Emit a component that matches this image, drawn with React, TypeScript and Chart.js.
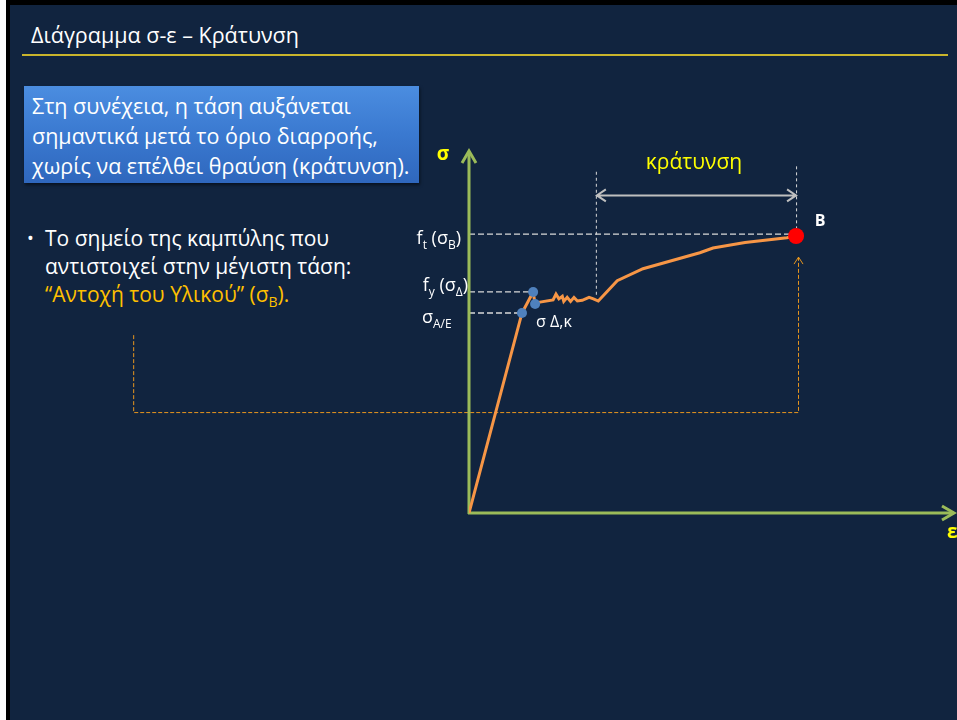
import React, { useEffect, useRef } from "react";
import { Chart, registerables } from "chart.js";

Chart.register(...registerables);

// σ-ε curve (strain ε, stress σ) in arbitrary units
const curveStrain = [0, 10.9, 13.2, 13.6, 14.6, 17.3, 17.9, 18.5, 19.2, 19.5, 20.2, 20.9, 21.6, 22.3, 23.3, 24.7, 25.6, 26.6, 30.5, 35.8, 47.5, 50.2, 56.8, 65.4, 67.3];
const curveStress = [0, 55.1, 60.9, 57.6, 58.1, 58.7, 60.3, 59.0, 59.7, 58.3, 59.4, 58.3, 59.4, 58.4, 58.6, 59.4, 59.0, 58.4, 64.0, 67.3, 71.7, 73.0, 74.5, 75.8, 76.3];

// characteristic points: σ A/E (proportional limit), f_y upper, σ Δ,κ lower
const markerStrain = [10.9, 13.2, 13.6];
const markerStress = [55.1, 60.9, 57.6];

// ultimate point B
const ultimateStrain = [67.3];
const ultimateStress = [76.3];

// hardening zone (κράτυνση) limits on ε
const hardeningStart = 26.1;
const hardeningEnd = 67.3;

const bgNavy = "#11243f";

function drawRich(
  ctx: CanvasRenderingContext2D,
  x: number,
  y: number,
  parts: { t: string; sub?: boolean }[],
  align: "left" | "right",
  size: number,
  color: string
) {
  const font = (s: number) => `${s}px "Open Sans", sans-serif`;
  const subSize = Math.round(size * 0.68);
  let total = 0;
  for (const p of parts) {
    ctx.font = font(p.sub ? subSize : size);
    total += ctx.measureText(p.t).width;
  }
  let cx = align === "right" ? x - total : x;
  ctx.fillStyle = color;
  ctx.textBaseline = "alphabetic";
  ctx.textAlign = "left";
  for (const p of parts) {
    ctx.font = font(p.sub ? subSize : size);
    ctx.fillText(p.t, cx, p.sub ? y + 5 : y);
    cx += ctx.measureText(p.t).width;
  }
}

const slidePlugin = {
  id: "slidePlugin",
  beforeDatasetsDraw(chart: any) {
    const ctx: CanvasRenderingContext2D = chart.ctx;
    const xs = chart.scales.x;
    const ys = chart.scales.y;
    const X = (v: number) => xs.getPixelForValue(v);
    const Y = (v: number) => ys.getPixelForValue(v);
    const x0 = X(0), y0 = Y(0), xEnd = X(100), yEnd = Y(100);
    ctx.save();

    // orange dashed bracket from the text to point B
    ctx.strokeStyle = "#e8961e";
    ctx.lineWidth = 1;
    ctx.setLineDash([4, 2]);
    ctx.beginPath();
    ctx.moveTo(X(-69.1) + 0.5, Y(49.0));
    ctx.lineTo(X(-69.1) + 0.5, Y(27.8) + 0.5);
    ctx.lineTo(X(67.7) + 0.5, Y(27.8) + 0.5);
    ctx.lineTo(X(67.7) + 0.5, Y(70.5));
    ctx.stroke();
    ctx.setLineDash([]);
    ctx.beginPath();
    ctx.moveTo(X(67.7) - 4, Y(70.5) + 7);
    ctx.lineTo(X(67.7) + 0.5, Y(70.5));
    ctx.lineTo(X(67.7) + 5, Y(70.5) + 7);
    ctx.stroke();

    // white dashed guides
    ctx.strokeStyle = "#d9d9d9";
    ctx.lineWidth = 1.3;
    ctx.setLineDash([6, 3]);
    const guides = [
      [ultimateStrain[0], ultimateStress[0] + 0.5],
      [markerStrain[1], markerStress[1]],
      [markerStrain[0], markerStress[0]],
    ];
    for (const [gx, gy] of guides) {
      ctx.beginPath();
      ctx.moveTo(x0, Y(gy));
      ctx.lineTo(X(gx), Y(gy));
      ctx.stroke();
    }
    // vertical dotted limits of hardening zone
    ctx.lineWidth = 1;
    ctx.setLineDash([3, 3]);
    ctx.beginPath();
    ctx.moveTo(X(hardeningStart) + 0.5, Y(94));
    ctx.lineTo(X(hardeningStart) + 0.5, Y(59.5));
    ctx.moveTo(X(hardeningEnd) + 0.5, Y(95.5));
    ctx.lineTo(X(hardeningEnd) + 0.5, Y(78.5));
    ctx.stroke();
    ctx.setLineDash([]);

    // dimension arrow
    const ay = Y(87.5);
    const ax1 = X(hardeningStart) + 1, ax2 = X(hardeningEnd);
    ctx.strokeStyle = "#bfbfbf";
    ctx.lineWidth = 2;
    ctx.beginPath();
    ctx.moveTo(ax1, ay);
    ctx.lineTo(ax2, ay);
    ctx.moveTo(ax1 + 9, ay - 6);
    ctx.lineTo(ax1, ay);
    ctx.lineTo(ax1 + 9, ay + 6);
    ctx.moveTo(ax2 - 9, ay - 6);
    ctx.lineTo(ax2, ay);
    ctx.lineTo(ax2 - 9, ay + 6);
    ctx.stroke();

    // axes
    ctx.strokeStyle = "#9bbb59";
    ctx.lineWidth = 3;
    ctx.lineCap = "butt";
    ctx.beginPath();
    ctx.moveTo(x0, y0 + 1);
    ctx.lineTo(x0, yEnd + 1);
    ctx.moveTo(x0 - 1, y0);
    ctx.lineTo(xEnd - 1, y0);
    ctx.stroke();
    ctx.lineJoin = "miter";
    ctx.beginPath();
    ctx.moveTo(x0 - 7, yEnd + 13);
    ctx.lineTo(x0, yEnd + 1);
    ctx.lineTo(x0 + 7, yEnd + 13);
    ctx.moveTo(xEnd - 13, y0 - 7);
    ctx.lineTo(xEnd - 1, y0);
    ctx.lineTo(xEnd - 13, y0 + 7);
    ctx.stroke();
    ctx.restore();
  },
  afterDatasetsDraw(chart: any) {
    const ctx: CanvasRenderingContext2D = chart.ctx;
    const xs = chart.scales.x;
    const ys = chart.scales.y;
    const X = (v: number) => xs.getPixelForValue(v);
    const Y = (v: number) => ys.getPixelForValue(v);
    const x0 = X(0), y0 = Y(0), xEnd = X(100), yEnd = Y(100);
    ctx.save();
    // axis titles
    ctx.fillStyle = "#ffff00";
    ctx.font = 'bold 19px "Open Sans", sans-serif';
    ctx.textAlign = "center";
    ctx.textBaseline = "middle";
    ctx.fillText("σ", x0 - 26, yEnd + 5);
    ctx.textAlign = "left";
    ctx.fillText("ε", xEnd - 8, y0 + 20);

    // κράτυνση
    ctx.font = '21px "Open Sans", sans-serif';
    ctx.textAlign = "center";
    ctx.fillText("κράτυνση", (X(hardeningStart) + X(hardeningEnd)) / 2 - 2, Y(96.3));

    // B
    ctx.fillStyle = "#ffffff";
    ctx.font = 'bold 16px "Open Sans", sans-serif';
    ctx.fillText("B", X(ultimateStrain[0]) + 24, Y(ultimateStress[0]) - 15);

    // stress level labels
    drawRich(ctx, x0 - 8, Y(ultimateStress[0]) + 8, [{ t: "f" }, { t: "t", sub: true }, { t: " (σ" }, { t: "B", sub: true }, { t: ")" }], "right", 18, "#ffffff");
    drawRich(ctx, x0 - 1, Y(markerStress[1]) - 1, [{ t: "f" }, { t: "y", sub: true }, { t: " (σ" }, { t: "Δ", sub: true }, { t: ")" }], "right", 18, "#ffffff");
    drawRich(ctx, x0 - 47, Y(markerStress[0]) + 10, [{ t: "σ" }, { t: "A/E", sub: true }], "left", 18, "#ffffff");
    drawRich(ctx, X(markerStrain[2]) + 1, Y(markerStress[2]) + 23, [{ t: "σ Δ,κ" }], "left", 16, "#ffffff");
    ctx.restore();
  },
};

export default function App() {
  const canvasRef = useRef<HTMLCanvasElement | null>(null);

  useEffect(() => {
    document.body.style.margin = "0";
    const canvas = canvasRef.current;
    if (!canvas) return;
    const chart = new Chart(canvas, {
      type: "scatter",
      data: {
        datasets: [
          {
            label: "ultimate",
            data: ultimateStrain.map((x, i) => ({ x, y: ultimateStress[i] })),
            backgroundColor: "#ff0000",
            borderColor: "#ff0000",
            pointRadius: 8,
            borderWidth: 0,
            order: 0,
          },
          {
            label: "markers",
            data: markerStrain.map((x, i) => ({ x, y: markerStress[i] })),
            backgroundColor: "#4f81bd",
            borderColor: "#4f81bd",
            pointRadius: 5,
            borderWidth: 0,
            order: 1,
          },
          {
            label: "σ-ε",
            data: curveStrain.map((x, i) => ({ x, y: curveStress[i] })),
            showLine: true,
            borderColor: "#f79646",
            borderWidth: 3,
            pointRadius: 0,
            tension: 0,
            order: 2,
          } as any,
        ],
      },
      options: {
        animation: false,
        responsive: false,
        maintainAspectRatio: false,
        devicePixelRatio: 1,
        layout: { autoPadding: false, padding: { left: 469, right: 2, top: 150, bottom: 207 } },
        scales: {
          x: { type: "linear", min: 0, max: 100, display: false },
          y: { type: "linear", min: 0, max: 100, display: false },
        },
        plugins: { legend: { display: false }, tooltip: { enabled: false } },
      },
      plugins: [slidePlugin],
    });
    return () => chart.destroy();
  }, []);

  const font = '"Open Sans", sans-serif';
  return (
    <div style={{ position: "relative", width: 957, height: 720, overflow: "hidden", background: "#ffffff", fontFamily: font }}>
      <div style={{ position: "absolute", left: 6, top: 0, width: 951, height: 720, background: "#000000" }} />
      <div style={{ position: "absolute", left: 10, top: 5, width: 947, height: 715, background: bgNavy }} />
      <div style={{ position: "absolute", left: 31, top: 21, color: "#ffffff", fontSize: 21.5, lineHeight: "28px", whiteSpace: "nowrap" }}>
        Διάγραμμα σ-ε – Κράτυνση
      </div>
      <div style={{ position: "absolute", left: 22, top: 54, width: 926, height: 2, background: "#c9b42c" }} />
      <div
        style={{
          position: "absolute",
          left: 24,
          top: 86,
          width: 395,
          height: 97,
          background: "linear-gradient(#4b8de0, #3a79d0 50%, #2f67bd)",
          boxShadow: "1px 2px 3px rgba(0,0,0,0.5)",
          boxSizing: "border-box",
          padding: "5px 0 0 8px",
          color: "#ffffff",
          fontSize: 21.5,
          lineHeight: "30px",
          whiteSpace: "nowrap",
        }}
      >
        Στη συνέχεια, η τάση αυξάνεται
        <br />
        σημαντικά μετά το όριο διαρροής,
        <br />
        χωρίς να επέλθει θραύση (κράτυνση).
      </div>
      <div style={{ position: "absolute", left: 27, top: 224, color: "#ffffff", fontSize: 18, lineHeight: "28px" }}>•</div>
      <div style={{ position: "absolute", left: 45, top: 224, color: "#ffffff", fontSize: 21, lineHeight: "28px", whiteSpace: "nowrap" }}>
        Το σημείο της καμπύλης που
        <br />
        αντιστοιχεί στην μέγιστη τάση:
        <br />
        <span style={{ color: "#ffc000" }}>
          “Αντοχή του Υλικού” (σ<sub style={{ fontSize: 14, verticalAlign: "-5px", lineHeight: 0 }}>Β</sub>).
        </span>
      </div>
      <canvas ref={canvasRef} width={957} height={720} style={{ position: "absolute", left: 0, top: 0, width: 957, height: 720 }} />
    </div>
  );
}
